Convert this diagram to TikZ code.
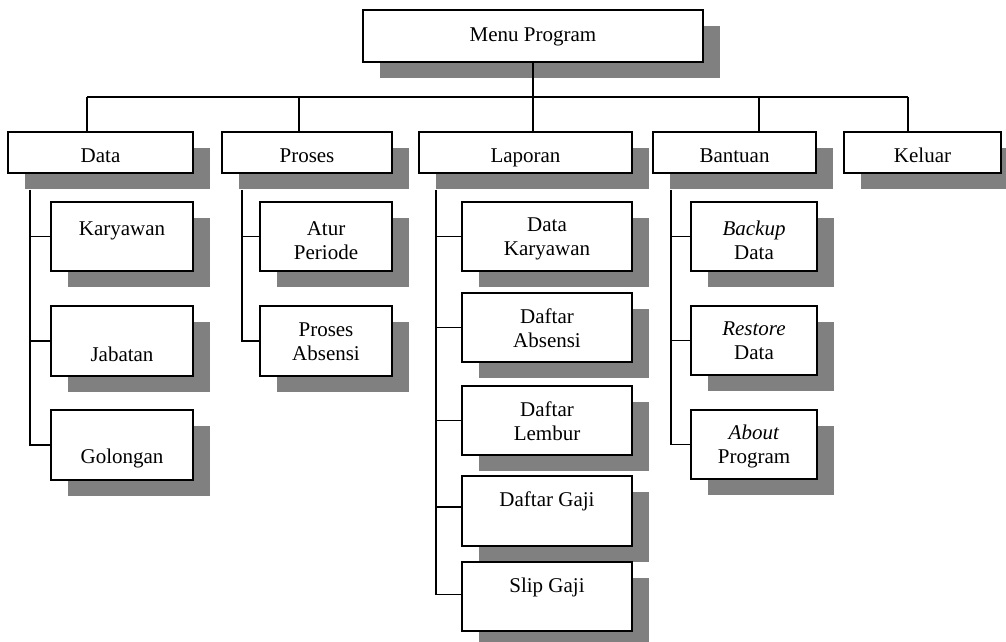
\documentclass[tikz,border=0pt]{standalone}
\usepackage{fontspec}
\setmainfont{Liberation Serif}
\usetikzlibrary{fit,shadows,calc}
\definecolor{shgray}{RGB}{128,128,128}
\newcommand\twol[2]{\begin{tabular}[t]{@{}c@{}}#1\\#2\end{tabular}}
\newcommand\bx[7]{\node[box, fit={(#2,-#3)(#4,-#5)}] (#1) {};
 \node[txt] (t#1) at (#1.center |- 0,-#6) {#7};}
\begin{document}
\begin{tikzpicture}[x=1pt,y=1pt,
  box/.style={draw, line width=1.6pt, fill=white, inner sep=0pt,
    drop shadow={shadow xshift=16.5pt, shadow yshift=-16pt, fill=shgray, opacity=1}},
  txt/.style={anchor=base, inner sep=0pt, font=\fontsize{21}{24}\selectfont},
  conn/.style={line width=1.5pt}]
\useasboundingbox (0,0) rectangle (1006,-641);
\clip (0,0) rectangle (1006,-641);
\bx{Menu}{363}{10}{703}{62}{41.7}{Menu Program}
\bx{Data}{8}{132}{193}{173}{162.5}{Data}
\bx{Pro}{222}{132}{392}{173}{162.5}{Proses}
\bx{Lap}{419}{132}{632}{173}{162.5}{Laporan}
\bx{Ban}{653}{132}{816}{173}{162.5}{Bantuan}
\bx{Kel}{844}{132}{1001}{173}{162.5}{Keluar}
\bx{Kar}{51}{202}{193}{271}{235.7}{Karyawan}
\bx{Jab}{51}{306}{193}{376}{361}{Jabatan}
\bx{Gol}{51}{410}{193}{480}{463.3}{Golongan}
\bx{Atur}{260}{202}{392}{271}{235.7}{\twol{Atur}{Periode}}
\bx{PAbs}{260}{306}{392}{376}{336}{\twol{Proses}{Absensi}}
\bx{LKar}{462}{202}{632}{271}{231.7}{\twol{Data}{Karyawan}}
\bx{LAbs}{462}{293}{632}{362}{323.3}{\twol{Daftar}{Absensi}}
\bx{LLem}{462}{386}{632}{455}{416}{\twol{Daftar}{Lembur}}
\bx{LGaji}{462}{476}{632}{546}{506}{Daftar Gaji}
\bx{LSlip}{462}{562}{632}{631}{592.3}{Slip Gaji}
\bx{Back}{691}{202}{817}{271}{235}{\twol{\textit{Backup}}{Data}}
\bx{Rest}{691}{306}{817}{375}{335.7}{\twol{\textit{Restore}}{Data}}
\bx{About}{691}{410}{817}{479}{439.3}{\twol{\textit{About}}{Program}}
% top-level connectors
\coordinate (busL) at (87,-97);
\coordinate (busR) at (908,-97);
\coordinate (jP) at (299,-97);
\coordinate (jB) at (759,-97);
\draw[conn] (busL) -- (busR);
\draw[conn] (busL) -- (busL |- Data.north);
\draw[conn] (jP) -- (jP |- Pro.north);
\draw[conn] (Menu.south) -- (Menu.south |- Lap.north);
\draw[conn] (jB) -- (jB |- Ban.north);
\draw[conn] (busR) -- (busR |- Kel.north);
% Data children
\coordinate (dD) at ($(Data.south west)+(23,-16)$);
\draw[conn] (dD) |- (Gol.west);
\draw[conn] (Kar.west) -- (Kar.west -| dD);
\draw[conn] (Jab.west) -- (Jab.west -| dD);
% Proses children
\coordinate (dP) at ($(Pro.south west)+(21,-16)$);
\draw[conn] (dP) |- (PAbs.west);
\draw[conn] (Atur.west) -- (Atur.west -| dP);
% Laporan children
\coordinate (dL) at ($(Lap.south west)+(18,-16)$);
\draw[conn] (dL) |- ([yshift=2pt]LSlip.west);
\draw[conn] (LKar.west) -- (LKar.west -| dL);
\draw[conn] (LAbs.west) -- (LAbs.west -| dL);
\draw[conn] (LLem.west) -- (LLem.west -| dL);
\draw[conn] ([yshift=4pt]LGaji.west) -- ([yshift=4pt]LGaji.west -| dL);
% Bantuan children
\coordinate (dB) at ($(Ban.south west)+(19,-16)$);
\draw[conn] (dB) |- (About.west);
\draw[conn] (Back.west) -- (Back.west -| dB);
\draw[conn] (Rest.west) -- (Rest.west -| dB);
\end{tikzpicture}
\end{document}
